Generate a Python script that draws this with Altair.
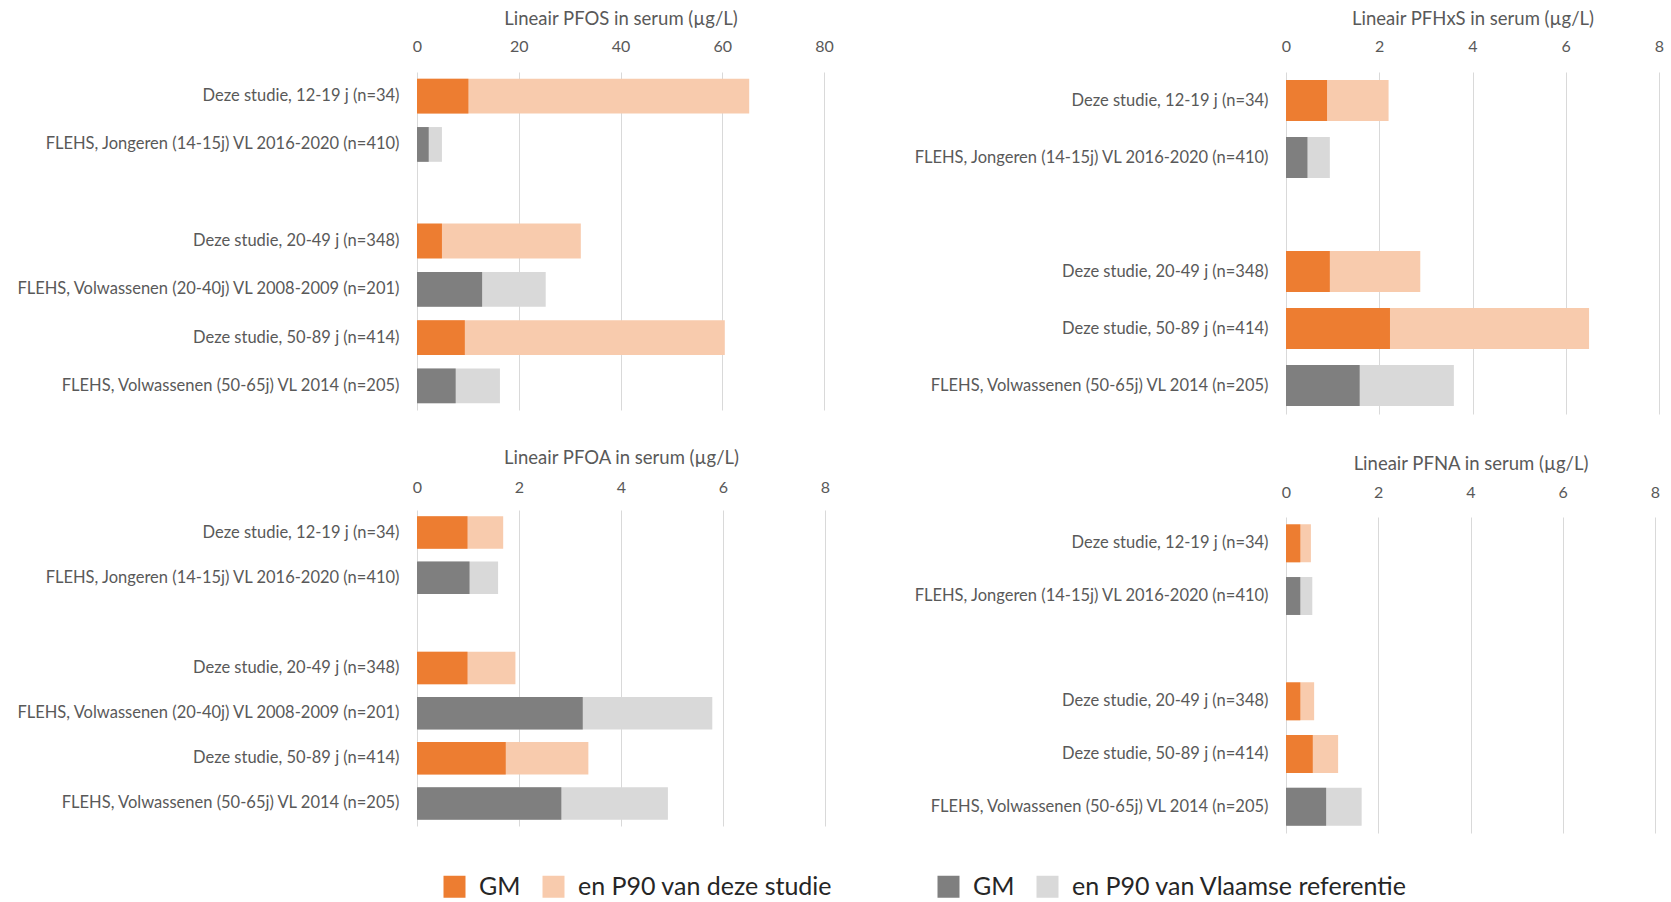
import altair as alt
import pandas as pd

# Colours and fonts
ORANJE = "#ED7D31"
ORANJE_LICHT = "#F8CBAD"
GRIJS = "#7F7F7F"
GRIJS_LICHT = "#D9D9D9"
ROOSTER = "#D9D9D9"
TEKST = "#595959"
LEGENDA_TEKST = "#262626"
FONT = "Lato"

# Row labels
DEZE_12 = "Deze studie, 12-19 j (n=34)"
DEZE_20 = "Deze studie, 20-49 j (n=348)"
DEZE_50 = "Deze studie, 50-89 j (n=414)"
REF_JONG = "FLEHS, Jongeren (14-15j) VL 2016-2020 (n=410)"
REF_20 = "FLEHS, Volwassenen (20-40j) VL 2008-2009 (n=201)"
REF_50 = "FLEHS, Volwassenen (50-65j) VL 2014 (n=205)"
LEEG = " "  # empty slot between the youth and adult groups

# Series names used in the legends
GM = "GM"
P90_DEZE = "en P90 van deze studie"
P90_REF = "en P90 van Vlaamse referentie"

# PFOS
pfos_volgorde = [DEZE_12, REF_JONG, LEEG, DEZE_20, REF_20, DEZE_50, REF_50]
pfos_rijen = [DEZE_12, REF_JONG, DEZE_20, REF_20, DEZE_50, REF_50]
pfos_gm = [10.1, 2.3, 4.9, 12.8, 9.4, 7.6]
pfos_p90 = [65.3, 4.9, 32.2, 25.3, 60.5, 16.3]
pfos_ticks = [0, 20, 40, 60, 80]

# PFHxS
pfhxs_volgorde = [DEZE_12, REF_JONG, LEEG, DEZE_20, DEZE_50, REF_50]
pfhxs_rijen = [DEZE_12, REF_JONG, DEZE_20, DEZE_50, REF_50]
pfhxs_gm = [0.88, 0.46, 0.94, 2.23, 1.58]
pfhxs_p90 = [2.2, 0.94, 2.88, 6.5, 3.6]
pfhxs_ticks = [0, 2, 4, 6, 8]

# PFOA
pfoa_volgorde = [DEZE_12, REF_JONG, LEEG, DEZE_20, REF_20, DEZE_50, REF_50]
pfoa_rijen = [DEZE_12, REF_JONG, DEZE_20, REF_20, DEZE_50, REF_50]
pfoa_gm = [0.99, 1.03, 0.99, 3.25, 1.74, 2.83]
pfoa_p90 = [1.69, 1.59, 1.93, 5.79, 3.36, 4.92]
pfoa_ticks = [0, 2, 4, 6, 8]

# PFNA
pfna_volgorde = [DEZE_12, REF_JONG, LEEG, DEZE_20, DEZE_50, REF_50]
pfna_rijen = [DEZE_12, REF_JONG, DEZE_20, DEZE_50, REF_50]
pfna_gm = [0.31, 0.31, 0.31, 0.58, 0.87]
pfna_p90 = [0.54, 0.57, 0.61, 1.13, 1.64]
pfna_ticks = [0, 2, 4, 6, 8]


def lange_tabel(rijen, gm, p90):
    """One record per bar segment; the P90 bar is listed first so GM sits on top."""
    records = []
    for rij, g, p in zip(rijen, gm, p90):
        bron = "deze" if rij.startswith("Deze") else "ref"
        p90_naam = P90_DEZE if bron == "deze" else P90_REF
        records.append({"rij": rij, "bron": bron, "serie": p90_naam, "waarde": p, "volg": 0})
        records.append({"rij": rij, "bron": bron, "serie": GM, "waarde": g, "volg": 1})
    return pd.DataFrame(records)


# Legend positions are measured from the top-left of the PFOS plot area
def legenda(x, y):
    return alt.Legend(
        title=None,
        orient="none",
        legendX=x,
        legendY=y,
        direction="horizontal",
        symbolType="square",
        symbolSize=484,
        symbolStrokeWidth=0,
        labelFontSize=25,
        labelFont=FONT,
        labelColor=LEGENDA_TEKST,
        labelOffset=12,
        columnPadding=20,
        labelLimit=500,
        padding=0,
    )


def paneel(titel, volgorde, rijen, gm, p90, ticks, breedte, hoogte, y_extent,
           x_label_pad, x_titel_pad):
    df = lange_tabel(rijen, gm, p90)
    x = alt.X(
        "waarde:Q",
        stack=None,
        scale=alt.Scale(domain=[ticks[0], ticks[-1]], nice=False, zero=True),
        axis=alt.Axis(
            orient="top",
            title=titel,
            values=ticks,
            format="d",
            grid=True,
            gridColor=ROOSTER,
            gridWidth=1,
            domain=False,
            ticks=False,
            labelFlush=False,
            labelFont=FONT,
            labelFontSize=16,
            labelColor=TEKST,
            labelPadding=x_label_pad,
            titleFont=FONT,
            titleFontSize=18.5,
            titleFontWeight="normal",
            titleColor=TEKST,
            titlePadding=x_titel_pad,
        ),
    )
    y = alt.Y(
        "rij:N",
        scale=alt.Scale(domain=volgorde, paddingInner=0.28, paddingOuter=0.14),
        axis=alt.Axis(
            title=None,
            domain=False,
            ticks=False,
            grid=False,
            labelFont=FONT,
            labelFontSize=16.5,
            labelColor=TEKST,
            labelPadding=18,
            labelLimit=600,
            minExtent=y_extent,
            maxExtent=y_extent,
        ),
    )
    basis = alt.Chart(df).mark_bar()
    deze = basis.transform_filter("datum.bron == 'deze'").encode(
        x=x,
        y=y,
        order=alt.Order("volg:Q"),
        color=alt.Color(
            "serie:N",
            scale=alt.Scale(domain=[GM, P90_DEZE], range=[ORANJE, ORANJE_LICHT]),
            legend=legenda(25, 802),
        ),
    )
    ref = basis.transform_filter("datum.bron == 'ref'").encode(
        x=x,
        y=y,
        order=alt.Order("volg:Q"),
        fill=alt.Fill(
            "serie:N",
            scale=alt.Scale(domain=[GM, P90_REF], range=[GRIJS, GRIJS_LICHT]),
            legend=legenda(519, 802),
        ),
    )
    return alt.layer(deze, ref).properties(width=breedte, height=hoogte)


p_pfos = paneel("Lineair PFOS in serum (µg/L)", pfos_volgorde, pfos_rijen, pfos_gm, pfos_p90,
                pfos_ticks, 407, 338, 417, 18, 10)
p_pfhxs = paneel("Lineair PFHxS in serum (µg/L)", pfhxs_volgorde, pfhxs_rijen, pfhxs_gm, pfhxs_p90,
                 pfhxs_ticks, 373, 342, 380, 18, 10)
p_pfoa = paneel("Lineair PFOA in serum (µg/L)", pfoa_volgorde, pfoa_rijen, pfoa_gm, pfoa_p90,
                pfoa_ticks, 408, 316, 417, 15, 12)
p_pfna = paneel("Lineair PFNA in serum (µg/L)", pfna_volgorde, pfna_rijen, pfna_gm, pfna_p90,
                pfna_ticks, 369, 316, 380, 17, 11)

links = alt.vconcat(p_pfos, p_pfoa, spacing=38)
rechts = alt.vconcat(p_pfhxs, p_pfna, spacing=40)

chart = (
    alt.hconcat(links, rechts, spacing=72)
    .properties(padding={"left": 0, "top": 9, "right": 0, "bottom": 0}, background="white")
    .configure_view(stroke=None)
    .configure_concat(spacing=0)
)

chart.save("out.html", embed_options={"renderer": "svg", "actions": False})
